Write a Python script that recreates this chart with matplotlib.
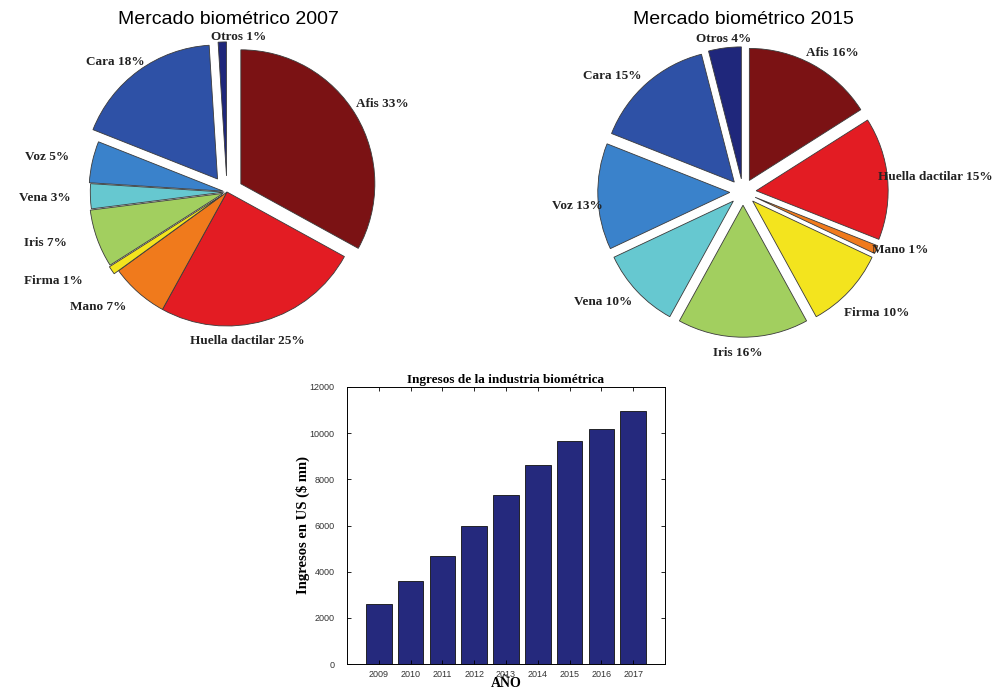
import numpy as np
import matplotlib
matplotlib.use('Agg')
import matplotlib.pyplot as plt

# market share per technology, clockwise from the top
tecnologias = ['Afis', 'Huella dactilar', 'Mano', 'Firma', 'Iris', 'Vena', 'Voz', 'Cara', 'Otros']
cuota_2007 = [33, 25, 7, 1, 7, 3, 5, 18, 1]
cuota_2015 = [16, 15, 1, 10, 16, 10, 13, 15, 4]

# yearly revenue of the industry
anios = ['2009', '2010', '2011', '2012', '2013', '2014', '2015', '2016', '2017']
ingresos = [2600, 3600, 4700, 6000, 7330, 8620, 9680, 10170, 10950]

colores = ['#7b1214', '#e31c23', '#f07a1c', '#f3e41e', '#a2cf5f',
           '#66c8d0', '#3a82cb', '#2e51a6', '#1f277b']

# explode and label placement for each pie
explode_2007 = [0.12, 0, 0, 0.04, 0.03, 0.02, 0.03, 0.12, 0.12]
explode_2015 = [0.1, 0.1, 0.1, 0.1, 0.1, 0.1, 0.1, 0.1, 0.1]
dist_2007 = [1.33, 1.12, 1.29, 1.46, 1.41, 1.36, 1.37, 1.28, 1.16]
giro_2007 = [-1, -8.5, -7, -7, -4, 0, 1.5, 4.5, -6]
dist_2015 = [1.25, 1.46, 1.27, 1.37, 1.22, 1.35, 1.26, 1.32, 1.17]
giro_2015 = [-4, -1, 3, 1, -2, -5, 3, 7, 0]

W, H = 996, 691
fig = plt.figure(figsize=(W / 100, H / 100), dpi=100)
fig.patch.set_facecolor('white')

lab_font = dict(family='Liberation Serif', weight='bold', size=9.5, color='#222222')


def pie_axes(cx, cy, r, lim=1.6):
    side = 2 * lim * r
    ax = fig.add_axes([(cx - side / 2) / W, 1 - (cy + side / 2) / H, side / W, side / H])
    return ax


def dibujar_pie(ax, valores, explode, dist, giro, lim=1.6):
    wedges, _ = ax.pie(valores, colors=colores, explode=explode, startangle=90,
                       counterclock=False, radius=1.0,
                       wedgeprops=dict(edgecolor='#3a3a3a', linewidth=0.6))
    ax.set_xlim(-lim, lim)
    ax.set_ylim(-lim, lim)
    ax.set_aspect('equal')
    ax.axis('off')
    for w, nombre, v, d, g in zip(wedges, tecnologias, valores, dist, giro):
        ang = np.deg2rad((w.theta1 + w.theta2) / 2 + g)
        ax.text(d * np.cos(ang), d * np.sin(ang), f'{nombre} {v}%',
                ha='center', va='center', **lab_font)


ax1 = pie_axes(227, 192, 134)
dibujar_pie(ax1, cuota_2007, explode_2007, dist_2007, giro_2007)
fig.text(228 / W, 1 - 19 / H, 'Mercado biométrico 2007', ha='center', va='center',
         family='Liberation Sans', fontsize=14)

ax2 = pie_axes(743, 192, 132)
dibujar_pie(ax2, cuota_2015, explode_2015, dist_2015, giro_2015)
fig.text(743 / W, 1 - 19 / H, 'Mercado biométrico 2015', ha='center', va='center',
         family='Liberation Sans', fontsize=14)

# revenue bars
ax3 = fig.add_axes([347 / W, 1 - 664 / H, 318 / W, 277 / H])
x = np.arange(1, len(anios) + 1)
ax3.bar(x, ingresos, width=0.8, color='#25297d', edgecolor='#111111', linewidth=0.6)
ax3.set_xlim(0, 10)
ax3.set_ylim(0, 12000)
ax3.set_xticks(x)
ax3.set_xticklabels(anios)
ax3.set_yticks(np.arange(0, 12001, 2000))
ax3.tick_params(direction='in', top=True, right=True, length=3, width=0.6,
                labelsize=6.5, labelcolor='#333333')
ax3.tick_params(axis='y', pad=9)
ax3.tick_params(axis='x', pad=4)
for lbl in ax3.get_xticklabels() + ax3.get_yticklabels():
    lbl.set_family('Liberation Sans')
for s in ax3.spines.values():
    s.set_linewidth(0.7)
ax3.set_title('Ingresos de la industria biométrica', family='Liberation Serif',
              weight='bold', fontsize=9.5, pad=3)
ax3.set_xlabel('AÑO', family='Liberation Serif', weight='bold', fontsize=10, labelpad=-1)
ax3.set_ylabel('Ingresos en US ($ mn)', family='Liberation Serif', weight='bold',
               fontsize=10.5, labelpad=0)

fig.savefig('out.png', dpi=100, facecolor='white')
